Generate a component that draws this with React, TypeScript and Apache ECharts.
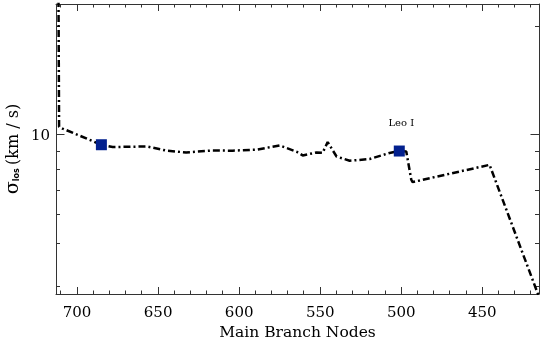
import React, { useEffect, useRef } from "react";
import * as echarts from "echarts";

// Main branch trajectory: node index vs line-of-sight velocity dispersion (km/s)
const nodes = [711.5, 711.1, 709, 685, 678, 657, 644.7, 632.7, 616.7, 604, 589.2, 575, 564.5, 560.8, 552.2, 548.5, 545.4, 539.9, 531.8, 519.5, 507.2, 501.2, 496.9, 493.8, 493, 445.5, 415.9, 414];
const sigma = [26, 10.52, 10.4, 9.38, 9.24, 9.28, 9.03, 8.93, 9.04, 9.03, 9.09, 9.34, 8.97, 8.76, 8.93, 8.91, 9.54, 8.7, 8.47, 8.56, 8.9, 9.01, 8.99, 7.5, 7.39, 8.25, 3.64, 3.5];

// Highlighted nodes
const markerNodes = [685, 501.2];
const markerSigma = [9.38, 9.01];
const markerLabels = ["", "Leo I"];

// Axis ticks
const xMajorTicks = [450, 500, 550, 600, 650, 700];
const xMinorTicks = [420, 430, 440, 460, 470, 480, 490, 510, 520, 530, 540, 560, 570, 580, 590, 610, 620, 630, 640, 660, 670, 680, 690, 710];
const yMajorTicks = [10];
const yMinorTicks = [3.79, 5, 6, 7, 8, 9, 20];
const yLabelTicks = [10];

const X_MIN = 415;
const X_MAX = 713;
const Y_MIN = 3.616;
const Y_MAX = 23.04;

const lg = (v: number) => Math.log10(v);

export default function App() {
  const ref = useRef<HTMLDivElement>(null);
  useEffect(() => {
    if (!ref.current) return;
    const chart = echarts.init(ref.current, null, { renderer: "svg" });
    const axisColor = "#333";
    const serif = "DejaVu Serif";
    const snap = (v: number) => Math.round(v - 0.5) + 0.5;
    const yMid = (lg(Y_MIN) + lg(Y_MAX)) / 2;
    const xMid = (X_MIN + X_MAX) / 2;

    const xTickSeries = (ticks: number[], len: number) => ({
      type: "custom",
      clip: false,
      data: ticks.map((v) => [v, yMid]),
      renderItem: (_p: any, api: any) => {
        const v = api.value(0);
        const b = api.coord([v, lg(Y_MIN)]);
        const t = api.coord([v, lg(Y_MAX)]);
        const x = snap(b[0]);
        return {
          type: "group",
          children: [
            { type: "line", shape: { x1: x, y1: b[1], x2: x, y2: b[1] - len }, style: { stroke: axisColor, lineWidth: 1 } },
            { type: "line", shape: { x1: x, y1: t[1], x2: x, y2: t[1] + len }, style: { stroke: axisColor, lineWidth: 1 } },
          ],
        };
      },
    });
    const yTickSeries = (ticks: number[], len: number) => ({
      type: "custom",
      clip: false,
      data: ticks.map((v) => [xMid, lg(v)]),
      renderItem: (_p: any, api: any) => {
        const v = api.value(1);
        const l = api.coord([X_MAX, v]);
        const r = api.coord([X_MIN, v]);
        const y = snap(l[1]);
        return {
          type: "group",
          children: [
            { type: "line", shape: { x1: l[0], y1: y, x2: l[0] + len, y2: y }, style: { stroke: axisColor, lineWidth: 1 } },
            { type: "line", shape: { x1: r[0], y1: y, x2: r[0] - len, y2: y }, style: { stroke: axisColor, lineWidth: 1 } },
          ],
        };
      },
    });

    const axisLine = { show: true, onZero: false, lineStyle: { color: axisColor, width: 1 } };

    chart.setOption({
      animation: false,
      grid: { left: 56, right: 1, top: 4, bottom: 49, containLabel: false, outerBoundsMode: "none" },
      xAxis: [
        {
          type: "value",
          min: X_MIN,
          max: X_MAX,
          inverse: true,
          position: "bottom",
          splitLine: { show: false },
          axisLine,
          axisTick: { show: false },
          axisLabel: { show: true, customValues: xMajorTicks, fontFamily: serif, fontSize: 15, color: "#000", margin: 10 },
          name: "Main Branch Nodes",
          nameLocation: "middle",
          nameGap: 30,
          nameTextStyle: { fontFamily: serif, fontSize: 15.5, color: "#000" },
        },
        {
          type: "value",
          min: X_MIN,
          max: X_MAX,
          inverse: true,
          position: "top",
          splitLine: { show: false },
          axisLine,
          axisTick: { show: false },
          axisLabel: { show: false },
        },
      ],
      yAxis: [
        {
          type: "value",
          min: lg(Y_MIN),
          max: lg(Y_MAX),
          position: "left",
          splitLine: { show: false },
          axisLine,
          axisTick: { show: false },
          axisLabel: {
            show: true,
            customValues: yLabelTicks.map(lg),
            formatter: (v: number) => String(Math.round(Math.pow(10, v))),
            fontFamily: serif,
            fontSize: 15,
            color: "#000",
            margin: 6,
          },
          name: "{g|σ}{s|los} {t|(km / s)}",
          nameLocation: "middle",
          nameRotate: 90,
          nameGap: 31,
          nameTextStyle: {
            rich: {
              g: { fontFamily: serif, fontSize: 19, color: "#000", lineHeight: 22, verticalAlign: "bottom" },
              s: { fontFamily: "DejaVu Sans", fontSize: 8, fontWeight: "bold", color: "#000", lineHeight: 16, verticalAlign: "bottom" },
              t: { fontFamily: serif, fontSize: 16, color: "#000", lineHeight: 22, verticalAlign: "bottom" },
            },
          },
        },
        {
          type: "value",
          min: lg(Y_MIN),
          max: lg(Y_MAX),
          position: "right",
          splitLine: { show: false },
          axisLine,
          axisTick: { show: false },
          axisLabel: { show: false },
        },
      ],
      series: [
        xTickSeries(xMajorTicks, 7),
        xTickSeries(xMinorTicks, 3.5),
        yTickSeries(yMajorTicks, 8.5),
        yTickSeries(yMinorTicks, 4),
        {
          type: "line",
          data: nodes.map((n, i) => [n, lg(sigma[i])]),
          symbol: "none",
          clip: true,
          z: 3,
          lineStyle: { color: "#000", width: 2.5, type: [7, 3, 2, 3] },
        },
        {
          type: "scatter",
          symbol: "rect",
          symbolSize: 11,
          z: 5,
          itemStyle: { color: "#02208e", opacity: 1 },
          data: markerNodes.map((n, i) => ({
            value: [n, lg(markerSigma[i])],
            label: {
              show: markerLabels[i] !== "",
              formatter: markerLabels[i],
              position: "top",
              distance: 18,
              offset: [2, 0],
              fontFamily: serif,
              fontSize: 10,
              color: "#000",
            },
          })),
        },
      ],
    });
    return () => chart.dispose();
  }, []);
  return <div ref={ref} style={{ position: "fixed", left: 0, top: 0, width: 540, height: 343 }} />;
}
